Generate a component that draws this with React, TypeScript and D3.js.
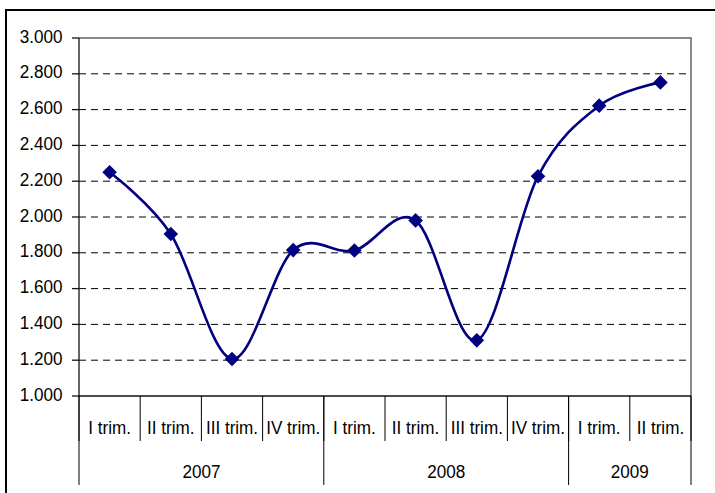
import React from "react";
import * as d3 from "d3";

const categories = ["I trim.", "II trim.", "III trim.", "IV trim.", "I trim.", "II trim.", "III trim.", "IV trim.", "I trim.", "II trim."];
const years = ["2007", "2008", "2009"];
const yearSpans = [4, 4, 2];
const values = [2250, 1905, 1207, 1815, 1813, 1981, 1311, 2228, 2622, 2752];
const yTicks = [1000, 1200, 1400, 1600, 1800, 2000, 2200, 2400, 2600, 2800, 3000];

const W = 715, H = 493;
const L = 79, R = 691, T = 38, B = 396;
const FONT = "'Liberation Sans', Arial, sans-serif";
const FS = 19;
const SX = 0.9;

const locale = d3.formatLocale({ decimal: ",", thousands: ".", grouping: [3], currency: ["", ""] });
const fmt = locale.format(",d");

export default function App() {
  const x = d3.scaleBand<number>().domain(d3.range(categories.length)).range([L, R]).padding(0);
  const y = d3.scaleLinear().domain([1000, 3000]).range([B, T]);
  const cx = (i: number) => (x(i) as number) + x.bandwidth() / 2;
  const line = d3.line<number>().x((_, i) => cx(i)).y((d) => y(d)).curve(d3.curveCatmullRom.alpha(0));
  const bw = x.bandwidth();

  const yearBounds: number[] = [0];
  yearSpans.forEach((s) => yearBounds.push(yearBounds[yearBounds.length - 1] + s));

  const txt = (tx: number, ty: number, s: string, anchor: string, key: string | number) => (
    <text key={key} transform={`translate(${tx},${ty}) scale(${SX},1)`} textAnchor={anchor} fontFamily={FONT} fontSize={FS} fill="#000">
      {s}
    </text>
  );

  return (
    <svg width={W} height={H} style={{ position: "absolute", left: 0, top: 0, background: "#fff" }}>
      <rect x={6} y={10} width={W + 20} height={H + 20} fill="#fff" stroke="#000" strokeWidth={2} />
      {/* gridlines */}
      {yTicks.filter((t) => t !== 1000 && t !== 3000).map((t) => (
        <line key={t} x1={L} x2={R} y1={y(t)} y2={y(t)} stroke="#000" strokeWidth={1} strokeDasharray="7,5" />
      ))}
      {/* plot border top & right */}
      <line x1={L} x2={R} y1={T} y2={T} stroke="#888" strokeWidth={2} />
      <line x1={R} x2={R} y1={T - 1} y2={B} stroke="#888" strokeWidth={2} />
      {/* y axis */}
      <line x1={L} x2={L} y1={T} y2={B} stroke="#111" strokeWidth={1.3} />
      {yTicks.map((t) => (
        <g key={t}>
          <line x1={72} x2={L} y1={y(t)} y2={y(t)} stroke="#111" strokeWidth={1.3} />
          {txt(62.5, y(t) + 4.5, fmt(t), "end", "l")}
        </g>
      ))}
      {/* x axis */}
      <line x1={L} x2={R} y1={B} y2={B} stroke="#111" strokeWidth={1.3} />
      {d3.range(categories.length + 1).map((i) => (
        <line key={"c" + i} x1={L + i * bw} x2={L + i * bw} y1={B} y2={441} stroke="#000" strokeWidth={1} />
      ))}
      {categories.map((c, i) => txt(cx(i), 433.5, c, "middle", "t" + i))}
      {yearBounds.map((b, i) => (
        <line key={"y" + i} x1={L + b * bw} x2={L + b * bw} y1={B} y2={485} stroke="#000" strokeWidth={1} />
      ))}
      {years.map((yr, i) => txt(L + ((yearBounds[i] + yearBounds[i + 1]) / 2) * bw, 478, yr, "middle", "yr" + i))}
      {/* series */}
      <path d={line(values) || ""} fill="none" stroke="#000080" strokeWidth={2.6} />
      {values.map((v, i) => (
        <path key={"m" + i} transform={`translate(${cx(i)},${y(v)})`} d="M0,-7.3L7.3,0L0,7.3L-7.3,0Z" fill="#000080" />
      ))}
    </svg>
  );
}
